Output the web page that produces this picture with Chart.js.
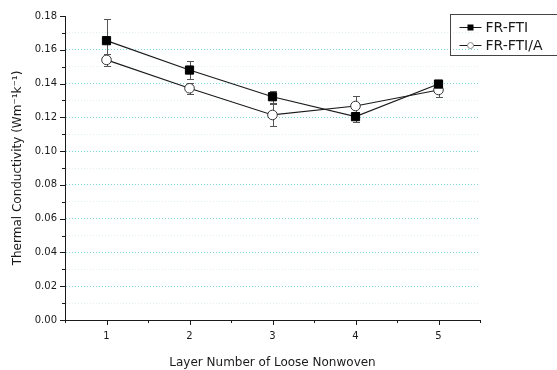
<!DOCTYPE html>
<html>
<head>
<meta charset="utf-8">
<script src="https://cdn.jsdelivr.net/npm/chart.js@4.4.1/dist/chart.umd.min.js"></script>
<style>
  html, body { margin: 0; padding: 0; background: #fff; }
  #wrap { width: 557px; height: 370px; position: relative; }
</style>
</head>
<body>
<div id="wrap"><canvas id="c"></canvas></div>
<script>
/* ── data ───────────────────────────────────────────────── */
const layers    = [1, 2, 3, 4, 5];
const ftiVals   = [0.1654, 0.148, 0.1322, 0.1204, 0.1397];
const ftiErr    = [0.0126, 0.0054, 0.0036, 0.0030, 0.0020];
const ftiAVals  = [0.154, 0.1372, 0.1214, 0.1267, 0.1362];
const ftiAErr   = [0.0034, 0.0032, 0.0064, 0.0060, 0.0040];
const seriesNames = ['FR-FTI', 'FR-FTI/A'];
const yTickLabels = ['0.00', '0.02', '0.04', '0.06', '0.08', '0.10', '0.12', '0.14', '0.16', '0.18'];

const FONT = "'DejaVu Sans', Verdana, sans-serif";
const INK  = '#1a1a1a';

/* error bars, behind the markers */
const errorBars = {
    id: 'errorBars',
    beforeDatasetsDraw(chart) {
        const { ctx, scales: { x, y } } = chart;
        const vals = [ftiVals, ftiAVals];
        const errs = [ftiErr, ftiAErr];
        ctx.save();
        ctx.strokeStyle = '#555';
        ctx.lineWidth = 1;
        vals.forEach((series, i) => {
            series.forEach((v, j) => {
                const px = Math.round(x.getPixelForValue(layers[j])) + 0.5;
                const top = Math.round(y.getPixelForValue(v + errs[i][j])) + 0.5;
                const bot = Math.round(y.getPixelForValue(v - errs[i][j])) + 0.5;
                ctx.beginPath();
                ctx.moveTo(px, top); ctx.lineTo(px, bot);
                ctx.moveTo(px - 3.5, top); ctx.lineTo(px + 3.5, top);
                ctx.moveTo(px - 3.5, bot); ctx.lineTo(px + 3.5, bot);
                ctx.stroke();
            });
        });
        ctx.restore();
    }
};

/* outward major/minor tick marks + legend box */
const axisDecor = {
    id: 'axisDecor',
    afterDraw(chart) {
        const { ctx, chartArea: a, scales: { x, y } } = chart;
        ctx.save();
        ctx.strokeStyle = INK;
        ctx.lineWidth = 1;
        ctx.beginPath();
        x.ticks.forEach(t => {
            const px = Math.round(x.getPixelForValue(t.value)) + 0.5;
            const len = Number.isInteger(t.value) ? 5 : 3;
            ctx.moveTo(px, a.bottom); ctx.lineTo(px, a.bottom + len);
        });
        y.ticks.forEach(t => {
            const py = Math.round(y.getPixelForValue(t.value)) + 0.5;
            const len = Math.round(t.value * 100) % 2 === 0 ? 5 : 3;
            ctx.moveTo(a.left, py); ctx.lineTo(a.left - len, py);
        });
        ctx.stroke();

        // legend
        const lx = a.right - 29.5, ly = 14.5;
        ctx.strokeStyle = '#444';
        ctx.strokeRect(lx, ly, 110, 41);
        ctx.font = '14px ' + FONT;
        ctx.textBaseline = 'middle';
        [27, 45].forEach((ry, i) => {
            const cx = lx + 20;
            ctx.strokeStyle = INK;
            ctx.beginPath();
            ctx.moveTo(lx + 9, ry + 0.5); ctx.lineTo(lx + 31, ry + 0.5);
            ctx.stroke();
            if (i === 0) {
                ctx.fillStyle = '#000';
                ctx.fillRect(cx - 3, ry - 2.5, 6, 6);
            } else {
                ctx.fillStyle = '#fff';
                ctx.beginPath();
                ctx.arc(cx, ry + 0.5, 3, 0, Math.PI * 2);
                ctx.fill();
                ctx.strokeStyle = '#888';
                ctx.stroke();
            }
            ctx.fillStyle = INK;
            ctx.fillText(seriesNames[i], lx + 35, ry + 1);
        });
        ctx.restore();
    }
};

new Chart(document.getElementById('c'), {
    type: 'line',
    data: {
        datasets: [
            {
                label: seriesNames[0],
                data: ftiVals.map((v, i) => ({ x: layers[i], y: v })),
                borderColor: INK,
                borderWidth: 1.2,
                pointStyle: 'rect',
                pointRadius: 5.8,
                pointBackgroundColor: '#000',
                pointBorderColor: '#000',
                pointBorderWidth: 1,
                tension: 0,
            },
            {
                label: seriesNames[1],
                data: ftiAVals.map((v, i) => ({ x: layers[i], y: v })),
                borderColor: INK,
                borderWidth: 1.2,
                pointStyle: 'circle',
                pointRadius: 4.8,
                pointBackgroundColor: '#fff',
                pointBorderColor: '#333',
                pointBorderWidth: 1,
                tension: 0,
            },
        ],
    },
    options: {
        responsive: true,
        maintainAspectRatio: false,
        animation: false,
        events: [],
        layout: { padding: { top: 16, right: 77, bottom: 0, left: 0 } },
        plugins: { legend: { display: false }, tooltip: { enabled: false } },
        scales: {
            x: {
                type: 'linear',
                min: 0.5, max: 5.5,
                afterFit: s => { s.height = 50; },
                border: { display: true, color: INK, width: 1 },
                grid: { drawOnChartArea: false, drawTicks: false },
                ticks: {
                    stepSize: 0.5,
                    padding: 10,
                    color: INK,
                    font: { family: FONT, size: 10 },
                    callback: v => Number.isInteger(v) ? String(v) : '',
                },
                title: {
                    display: true,
                    text: 'Layer Number of Loose Nonwoven',
                    color: INK,
                    font: { family: FONT, size: 12 },
                    padding: { top: 6, bottom: 0 },
                },
            },
            y: {
                min: 0, max: 0.18,
                afterFit: s => { s.width = 65; },
                border: { display: true, color: INK, width: 1, dash: [1, 2] },
                grid: {
                    drawTicks: false,
                    color: c => {
                        const k = Math.round(c.tick.value * 100);
                        if (k === 0 || k === 18) return 'rgba(0,0,0,0)';
                        return k % 2 === 0 ? 'rgb(130,215,215)' : 'rgba(170,215,215,0.35)';
                    },
                    lineWidth: 1,
                },
                ticks: {
                    stepSize: 0.01,
                    padding: 8,
                    color: INK,
                    font: { family: FONT, size: 10 },
                    callback: v => {
                        const k = Math.round(v * 100);
                        return k % 2 === 0 ? yTickLabels[k / 2] : '';
                    },
                },
                title: {
                    display: true,
                    text: 'Thermal Conductivity (Wm⁻¹k⁻¹)',
                    color: INK,
                    font: { family: FONT, size: 12 },
                    padding: { top: 11, bottom: 4 },
                },
            },
        },
    },
    plugins: [errorBars, axisDecor],
});
</script>
</body>
</html>
